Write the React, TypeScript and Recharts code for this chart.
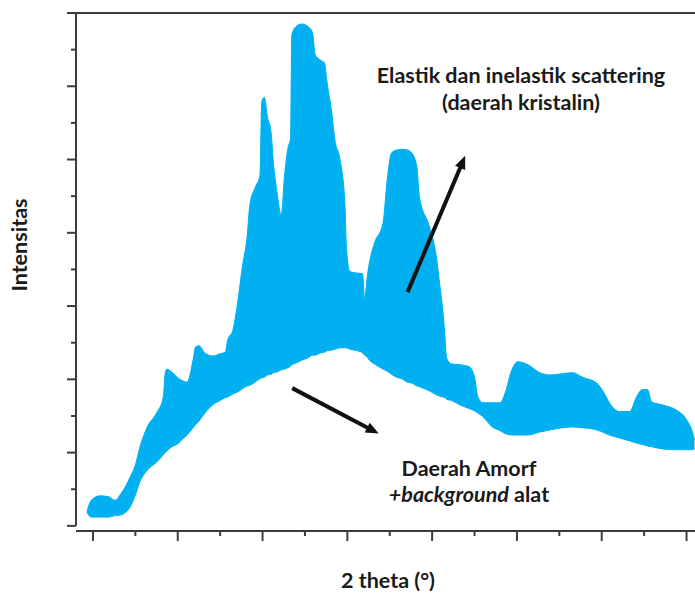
import React from "react";
import { AreaChart, Area, XAxis, YAxis, ReferenceLine } from "recharts";

// 2 theta positions (degrees)
const twoTheta = [
  9.3, 9.8, 10.8, 11.8, 12.6, 13.3, 13.9, 14.4, 15.0, 15.5,
  16.4, 17.5, 18.3, 18.5, 18.7, 19.3, 20.0, 20.6, 21.1, 21.8,
  22.1, 22.5, 23.2, 24.1, 25.0, 25.6, 25.9, 26.5, 27.1, 27.6,
  28.2, 28.5, 29.1, 29.7, 29.9, 30.2, 30.6, 31.0, 31.3, 31.7,
  32.2, 32.6, 33.0, 33.3, 33.45, 33.9, 34.6, 35.3, 35.9, 36.2,
  36.8, 37.3, 37.6, 38.2, 38.5, 39.1, 39.7, 39.9, 40.3, 41.2,
  41.8, 42.05, 42.3, 42.6, 43.2, 44.2, 44.7, 45.2, 45.8, 46.4,
  47.1, 47.6, 48.2, 48.5, 49.7, 50.5, 50.9, 51.25, 51.5, 51.7,
  52.3, 53.3, 54.4, 55.0, 55.4, 56.0, 57.1, 58.0, 58.6, 59.4,
  60.1, 61.3, 62.7, 63.9, 66.6, 67.7, 69.4, 70.3, 70.9, 72.1,
  73.3, 74.1, 74.8, 75.4, 75.9, 77.2, 78.8, 80.0, 80.7, 80.94,
];

// total measured intensity (top edge of the filled band)
const totalIntensity = [
  20, 35, 41, 40, 35, 44, 55, 67, 83, 106,
  135, 154, 176, 206, 214, 210, 202, 198, 196, 226,
  244, 246, 236, 232, 235, 237, 254, 267, 308, 352,
  397, 438, 461, 479, 578, 585, 557, 538, 493, 456,
  424, 479, 516, 529, 670, 681, 685, 682, 673, 643,
  636, 632, 606, 561, 529, 502, 442, 379, 347, 345,
  344, 308, 336, 359, 386, 413, 472, 509, 513, 514,
  513, 509, 490, 449, 408, 367, 329, 295, 261, 229,
  221, 220, 217, 203, 176, 168, 168, 168, 181, 213,
  224, 220, 209, 206, 209, 203, 195, 181, 168, 156,
  156, 176, 186, 186, 169, 165, 158, 145, 128, 117,
];

// amorphous + background hump (bottom edge of the filled band)
const amorphousIntensity = [
  18, 12, 12, 12, 14, 15, 19, 26, 42, 59,
  76, 87, 97, 100, 102, 108, 112, 119, 124, 134,
  138, 143, 154, 165, 171, 175, 176, 180, 183, 187,
  191, 192, 196, 201, 202, 203, 206, 207, 209, 210,
  213, 214, 216, 218, 220, 222, 226, 229, 233, 233,
  236, 237, 239, 240, 241, 243, 243, 243, 241, 239,
  236, 233, 231, 226, 221, 214, 211, 207, 203, 201,
  196, 195, 191, 190, 184, 179, 177, 176, 175, 173,
  171, 165, 160, 157, 154, 149, 135, 130, 126, 124,
  124, 124, 128, 131, 135, 134, 131, 127, 124, 120,
  116, 113, 111, 109, 108, 105, 104, 104, 104, 105,
];

const xTicks = [10, 15, 20, 25, 30, 35, 40, 45, 50, 55, 60, 65, 70, 75, 80];
const yTicks = [0, 50, 100, 150, 200, 250, 300, 350, 400, 450, 500, 550, 600, 650, 700];

const data = twoTheta.map((t, i) => ({
  t,
  band: [amorphousIntensity[i], totalIntensity[i]],
}));

const AXIS = "#3c3c3c";
const BLUE = "#00B0F0";
const FONT = "Lato, 'Open Sans', sans-serif";
const FS = 21.5;

function YTick(props: any) {
  const { x, y, payload } = props;
  const len = payload.value % 100 === 0 ? 9 : 5;
  return <line x1={x - len} x2={x} y1={y} y2={y} stroke={AXIS} strokeWidth={2} />;
}

function XTick(props: any) {
  const { x, y, payload } = props;
  const len = payload.value % 10 === 0 ? 10 : 5;
  return <line x1={x} x2={x} y1={y} y2={y + len} stroke={AXIS} strokeWidth={2} />;
}

function Arrow(props: any) {
  const { x1, y1, x2, y2 } = props;
  const dx = x2 - x1;
  const dy = y2 - y1;
  const d = Math.sqrt(dx * dx + dy * dy);
  const ux = dx / d;
  const uy = dy / d;
  const head = 13;
  const half = 5.5;
  const bx = x2 - ux * head;
  const by = y2 - uy * head;
  const pts = `${x2},${y2} ${bx - uy * half},${by + ux * half} ${bx + uy * half},${by - ux * half}`;
  return (
    <g>
      <line x1={x1} y1={y1} x2={bx + ux * 2} y2={by + uy * 2} stroke="#111" strokeWidth={4} />
      <polygon points={pts} fill="#111" />
    </g>
  );
}

export default function App() {
  return (
    <div style={{ position: "absolute", left: 0, top: 0, width: 695, height: 595, background: "#fff" }}>
      <AreaChart width={695} height={595} data={data} margin={{ top: 13, right: 0, bottom: 0, left: 0 }}>
        <XAxis
          dataKey="t"
          type="number"
          domain={[8, 81]}
          allowDataOverflow
          ticks={xTicks}
          interval={0}
          height={64}
          tickSize={0}
          tickMargin={0}
          tickLine={false}
          tick={<XTick />}
          axisLine={{ stroke: AXIS, strokeWidth: 2 }}
        />
        <YAxis
          type="number"
          domain={[-7, 700]}
          allowDataOverflow
          ticks={yTicks}
          interval={0}
          width={76}
          tickSize={0}
          tickMargin={0}
          tickLine={false}
          tick={<YTick />}
          axisLine={false}
        />
        <Area
          type="monotone"
          dataKey="band"
          fill={BLUE}
          fillOpacity={1}
          stroke={BLUE}
          strokeWidth={1}
          isAnimationActive={false}
          dot={false}
          activeDot={false}
        />
        <ReferenceLine y={700} stroke={AXIS} strokeWidth={2} />
        <ReferenceLine
          segment={[{ x: 8, y: 0 }, { x: 8, y: 700 }]}
          stroke={AXIS}
          strokeWidth={2}
          ifOverflow="visible"
        />
        <ReferenceLine
          segment={[{ x: 47.1, y: 319 }, { x: 53.9, y: 505 }]}
          shape={<Arrow />}
          ifOverflow="visible"
        />
        <ReferenceLine
          segment={[{ x: 33.5, y: 188 }, { x: 43.7, y: 126 }]}
          shape={<Arrow />}
          ifOverflow="visible"
        />
      </AreaChart>
      <svg
        width={695}
        height={595}
        style={{ position: "absolute", left: 0, top: 0, pointerEvents: "none" }}
        fontFamily={FONT}
        fontWeight={700}
        fill="#1a1a1a"
      >
        <text x={521} y={83} textAnchor="middle" fontSize={FS}>
          Elastik dan inelastik scattering
        </text>
        <text x={521} y={110} textAnchor="middle" fontSize={FS}>
          (daerah kristalin)
        </text>
        <text x={469} y={476} textAnchor="middle" fontSize={FS}>
          Daerah Amorf
        </text>
        <text x={469} y={502} textAnchor="middle" fontSize={FS}>
          <tspan fontStyle="italic">+background</tspan> alat
        </text>
        <text x={388} y={588} textAnchor="middle" fontSize={FS}>
          2 theta (°)
        </text>
        <text x={27} y={245} textAnchor="middle" fontSize={FS} transform="rotate(-90 27 245)">
          Intensitas
        </text>
      </svg>
    </div>
  );
}
